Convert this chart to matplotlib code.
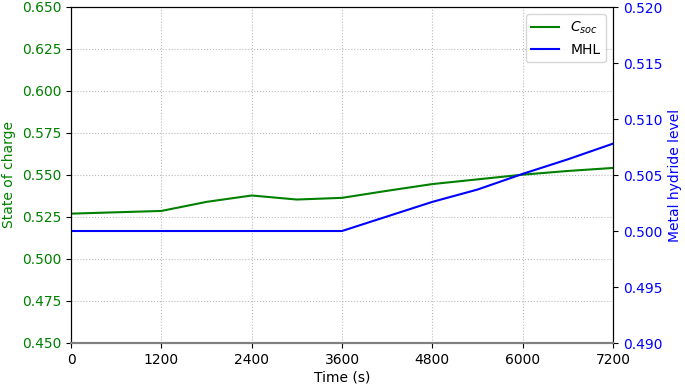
import matplotlib
matplotlib.use('Agg')
import matplotlib.pyplot as plt
import numpy as np

# time axis (s), samples every 10 minutes
time_s = [0, 600, 1200, 1800, 2400, 3000, 3600, 4200, 4800, 5400, 6000, 6600, 7200]
soc = [0.527, 0.5278, 0.5286, 0.534, 0.5378, 0.5354, 0.5364, 0.5406, 0.5446, 0.5474, 0.5502, 0.5524, 0.5542]
mhl = [0.500, 0.500, 0.500, 0.500, 0.500, 0.500, 0.500, 0.5013, 0.5026, 0.5037, 0.5051, 0.5064, 0.5078]
x_ticks = [0, 1200, 2400, 3600, 4800, 6000, 7200]

fig = plt.figure(figsize=(6.85, 3.85), dpi=100)
ax1 = fig.add_axes([71/685, 42/385, 542/685, 336/385])
ax2 = ax1.twinx()

l1, = ax1.plot(time_s, soc, color='green', lw=1.5, label='$C_{soc}$')
l2, = ax2.plot(time_s, mhl, color='blue', lw=1.5, label='MHL')

ax1.set_xlim(0, 7200)
ax1.set_xticks(x_ticks)
ax1.set_ylim(0.45, 0.65)
ax1.set_yticks(np.arange(0.45, 0.651, 0.025))
ax1.yaxis.set_major_formatter(plt.FormatStrFormatter('%.3f'))
ax2.set_ylim(0.49, 0.52)
ax2.set_yticks(np.arange(0.49, 0.5201, 0.005))
ax2.yaxis.set_major_formatter(plt.FormatStrFormatter('%.3f'))

ax1.grid(True, linestyle=':', color='#bbbbbb', lw=0.8)
ax1.set_xlabel('Time (s)', fontsize=10, labelpad=3)
ax1.set_ylabel('State of charge', color='green', fontsize=10)
ax2.set_ylabel('Metal hydride level', color='blue', fontsize=10)
ax1.tick_params(axis='y', labelcolor='green', labelsize=10)
ax1.tick_params(axis='x', labelsize=10)
ax2.tick_params(axis='y', labelcolor='blue', labelsize=10)
for ax in (ax1, ax2):
    ax.spines['bottom'].set_color('gray')
    ax.spines['bottom'].set_linewidth(1.5)

ax2.legend(handles=[l1, l2], loc='upper right', fontsize=10)

fig.savefig('out.png', dpi=100)
